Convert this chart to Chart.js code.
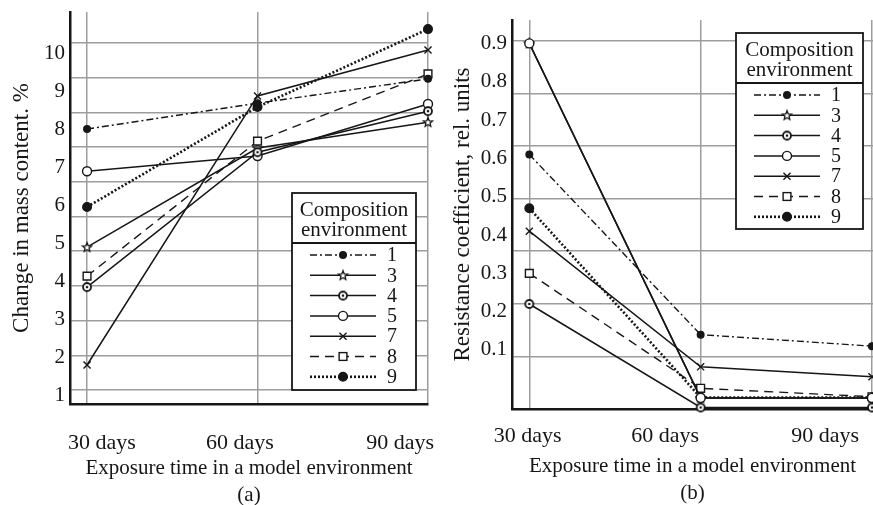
<!DOCTYPE html>
<html>
<head>
<meta charset="utf-8">
<title>Mass change and resistance coefficient vs exposure time</title>
<script src="https://cdn.jsdelivr.net/npm/chart.js@4.4.0/dist/chart.umd.min.js"></script>
<style>
  html, body { margin: 0; padding: 0; background: #fff; overflow: hidden; }
  #wrap { position: relative; width: 873px; height: 505px; overflow: hidden; }
  canvas { position: absolute; top: 0; }
  #massChart { left: 0; }
  #resistChart { left: 437px; }
</style>
</head>
<body>
<div id="wrap">
  <canvas id="massChart" width="440" height="510"></canvas>
  <canvas id="resistChart" width="436" height="510"></canvas>
</div>
<script>
// Exposure times and composition numbers
const days = [30, 60, 90];
const dayLabels = ['30 days', '60 days', '90 days'];
const compositions = ['1', '3', '4', '5', '7', '8', '9'];

// (a) change in mass content, %
const mass1 = [8.0, 8.68, 9.32];
const mass3 = [4.89, 7.5, 8.18];
const mass4 = [3.84, 7.39, 8.47];
const mass5 = [6.89, 7.29, 8.66];
const mass7 = [1.79, 8.87, 10.08];
const mass8 = [4.13, 7.68, 9.45];
const mass9 = [5.95, 8.58, 10.63];

// (b) resistance coefficient, rel. units
const resist1 = [0.61, 0.14, 0.11];
const resist3 = [0.9, -0.025, -0.025];
const resist4 = [0.22, -0.05, -0.05];
const resist5 = [0.9, -0.025, -0.025];
const resist7 = [0.41, 0.056, 0.03];
const resist8 = [0.30, 0.0, -0.022];
const resist9 = [0.47, -0.024, -0.024];

// Tick labels
const massTicks = [1, 2, 3, 4, 5, 6, 7, 8, 9, 10];
const resistTicks = [0.1, 0.2, 0.3, 0.4, 0.5, 0.6, 0.7, 0.8, 0.9];

// Where the day captions sit along the time axis (they run on their own spacing)
const captionDaysA = [32.6, 56.9, 85.1];
const captionDaysB = [29.7, 53.8, 81.8];

const INK = '#161616';
const GRID = '#9d9d9d';
const SERIF = '"Liberation Serif", "Times New Roman", serif';

// Small open star for composition 3
function starMarker() {
    const c = document.createElement('canvas');
    c.width = c.height = 12;
    const g = c.getContext('2d');
    g.beginPath();
    for (let i = 0; i < 10; i++) {
        const r = i % 2 ? 2.1 : 4.8;
        const a = -Math.PI / 2 + i * Math.PI / 5;
        g.lineTo(6 + r * Math.cos(a), 6.3 + r * Math.sin(a));
    }
    g.closePath();
    g.fillStyle = '#fff';
    g.fill();
    g.lineWidth = 1.3;
    g.strokeStyle = INK;
    g.stroke();
    return c;
}

// Ring with a dot in the middle for composition 4
function ringMarker() {
    const c = document.createElement('canvas');
    c.width = c.height = 12;
    const g = c.getContext('2d');
    g.beginPath();
    g.arc(6, 6, 4, 0, Math.PI * 2);
    g.fillStyle = '#fff';
    g.fill();
    g.lineWidth = 1.8;
    g.strokeStyle = INK;
    g.stroke();
    g.beginPath();
    g.arc(6, 6, 1.3, 0, Math.PI * 2);
    g.fillStyle = INK;
    g.fill();
    return c;
}

const seriesStyle = {
    '1': { dash: [7, 3, 2, 3], width: 1.4, point: 'circle', radius: 3.3, fill: INK },
    '3': { dash: [], width: 1.5, point: starMarker(), radius: 5, fill: '#fff' },
    '4': { dash: [], width: 1.5, point: ringMarker(), radius: 5, fill: '#fff' },
    '5': { dash: [], width: 1.5, point: 'circle', radius: 4.5, fill: '#fff' },
    '7': { dash: [], width: 1.5, point: 'crossRot', radius: 5, fill: INK },
    '8': { dash: [9, 6], width: 1.4, point: 'rect', radius: 5.5, fill: '#fff' },
    '9': { dash: [2, 2], width: 2.6, point: 'circle', radius: 4.3, fill: INK }
};

function buildDatasets(seriesValues) {
    return compositions.map((name, i) => {
        const s = seriesStyle[name];
        return {
            label: name,
            data: days.map((d, j) => ({ x: d, y: seriesValues[i][j] })),
            xAxisID: 'x',
            yAxisID: 'y',
            order: name === '3' ? 1 : 0,   // star sits underneath when points coincide
            borderColor: INK,
            borderWidth: s.width,
            borderDash: s.dash,
            pointStyle: s.point,
            pointRadius: s.radius,
            pointBackgroundColor: s.fill,
            pointBorderColor: INK,
            pointBorderWidth: 1.4,
            tension: 0,
            clip: false
        };
    });
}

// Marker sample for the legend box
function drawMarker(ctx, s, x, y) {
    ctx.save();
    ctx.setLineDash([]);
    ctx.lineWidth = 1.4;
    ctx.strokeStyle = INK;
    ctx.fillStyle = s.fill;
    if (typeof s.point !== 'string') {
        ctx.drawImage(s.point, x - s.point.width / 2, y - s.point.height / 2);
    } else if (s.point === 'circle') {
        ctx.beginPath();
        ctx.arc(x, y, s.radius, 0, Math.PI * 2);
        ctx.fill();
        ctx.stroke();
    } else if (s.point === 'rect') {
        const h = s.radius * Math.SQRT1_2;
        ctx.fillRect(x - h, y - h, 2 * h, 2 * h);
        ctx.strokeRect(x - h, y - h, 2 * h, 2 * h);
    } else if (s.point === 'crossRot') {
        const h = s.radius * Math.SQRT1_2;
        ctx.beginPath();
        ctx.moveTo(x - h, y - h); ctx.lineTo(x + h, y + h);
        ctx.moveTo(x - h, y + h); ctx.lineTo(x + h, y - h);
        ctx.stroke();
    }
    ctx.restore();
}

// Boxed legend with a two-line heading
const compositionLegend = {
    id: 'compositionLegend',
    afterDatasetsDraw(chart, args, opts) {
        const { ctx, chartArea } = chart;
        const x0 = chartArea.right - opts.right - opts.width;
        const y0 = opts.top != null ? chartArea.top + opts.top
                                    : chartArea.bottom - opts.bottom - opts.height;
        ctx.save();
        ctx.fillStyle = '#fff';
        ctx.fillRect(x0, y0, opts.width, opts.height);
        ctx.lineWidth = 1.8;
        ctx.strokeStyle = INK;
        ctx.strokeRect(x0, y0, opts.width, opts.height);
        ctx.beginPath();
        ctx.moveTo(x0, y0 + 50);
        ctx.lineTo(x0 + opts.width, y0 + 50);
        ctx.stroke();

        ctx.fillStyle = INK;
        ctx.textAlign = 'center';
        ctx.textBaseline = 'middle';
        ctx.font = '21px ' + SERIF;
        ctx.fillText('Composition', x0 + opts.width / 2, y0 + 17);
        ctx.fillText('environment', x0 + opts.width / 2, y0 + 37);

        ctx.font = '20px ' + SERIF;
        compositions.forEach((name, i) => {
            const s = seriesStyle[name];
            const y = y0 + 62 + i * 20.3;
            ctx.save();
            ctx.lineWidth = s.width;
            ctx.setLineDash(s.dash);
            ctx.beginPath();
            ctx.moveTo(x0 + 18, y);
            ctx.lineTo(x0 + 84, y);
            ctx.stroke();
            ctx.restore();
            drawMarker(ctx, s, x0 + 51, y);
            ctx.fillText(name, x0 + 100, y + 1);
        });
        ctx.restore();
    }
};

function makeChart(canvasId, cfg) {
    const tickFont = { family: SERIF, size: 21, lineHeight: 1 };
    return new Chart(document.getElementById(canvasId), {
        type: 'line',
        data: { datasets: buildDatasets(cfg.series) },
        plugins: [compositionLegend],
        options: {
            responsive: false,
            animation: false,
            devicePixelRatio: 1,
            events: [],
            layout: { padding: cfg.padding, autoPadding: false },
            plugins: {
                legend: { display: false },
                tooltip: { enabled: false },
                compositionLegend: cfg.legend
            },
            scales: {
                // time axis carrying the points and vertical grid;
                // its height is the gap above the day captions
                x: {
                    type: 'linear', position: 'bottom', weight: 0,
                    min: cfg.xMin, max: cfg.xMax,
                    ticks: { display: false, stepSize: 30, includeBounds: false },
                    grid: { color: GRID, lineWidth: 1.5, drawTicks: false },
                    border: { display: true, color: INK, width: 2.5 },
                    afterFit: s => { s.height = cfg.captionGap; }
                },
                // day captions and axis title
                xl: {
                    type: 'linear', position: 'bottom', weight: 1,
                    min: cfg.xMin, max: cfg.xMax,
                    afterBuildTicks: s => { s.ticks = cfg.captions.map(v => ({ value: v })); },
                    ticks: {
                        autoSkip: false, maxRotation: 0, padding: 0,
                        color: INK, font: { family: SERIF, size: 22 },
                        callback: (v, i) => dayLabels[i]
                    },
                    grid: { display: false, drawTicks: false },
                    border: { display: false },
                    title: {
                        display: true, text: ['Exposure time in a model environment', cfg.tag],
                        color: INK, font: { family: SERIF, size: 21, lineHeight: '27px' },
                        padding: { top: 0, bottom: cfg.titlePad }
                    },
                    afterFit: s => { s.height = cfg.bottomHeight - cfg.captionGap; }
                },
                // value scale with labels
                y: {
                    type: 'linear', position: 'left', weight: 1,
                    min: cfg.yMin, max: cfg.yMax,
                    afterBuildTicks: s => { s.ticks = cfg.yTicks.map(v => ({ value: v })); },
                    ticks: { padding: 0, color: INK, font: tickFont, callback: cfg.yFormat },
                    grid: { display: false, drawTicks: false },
                    border: { display: false },
                    title: {
                        display: true, text: cfg.yTitle, color: INK,
                        font: { family: SERIF, size: 23 },
                        padding: { top: cfg.yTitlePad, bottom: 0 }
                    },
                    afterFit: s => { s.width = cfg.leftWidth - 5; }
                },
                // horizontal grid, spaced independently of the labels;
                // its width is the gap between labels and the axis line
                yg: {
                    type: 'linear', position: 'left', weight: 0,
                    min: cfg.gridMin, max: cfg.gridMax,
                    ticks: { display: false, stepSize: 1, includeBounds: false },
                    grid: { color: GRID, lineWidth: 1.5, drawTicks: false },
                    border: { display: true, color: INK, width: 2.5 },
                    afterFit: s => { s.width = 5; }
                }
            }
        }
    });
}

makeChart('massChart', {
    series: [mass1, mass3, mass4, mass5, mass7, mass8, mass9],
    padding: { left: 0, top: 12, right: 12, bottom: 0 },
    legend: { right: 12, bottom: 14, width: 124, height: 197 },
    xMin: 27.0, xMax: 90,
    captions: captionDaysA, captionGap: 26, tag: '(a)', titlePad: 1.5, bottomHeight: 106,
    yMin: 0.763, yMax: 11.08, yTicks: massTicks, yFormat: v => String(v),
    yTitle: 'Change in mass content. %', yTitlePad: 8, leftWidth: 70,
    gridMin: -0.403, gridMax: 10.894
});

makeChart('resistChart', {
    series: [resist1, resist3, resist4, resist5, resist7, resist8, resist9],
    padding: { left: 0, top: 20, right: 0, bottom: 0 },
    legend: { right: 10, top: 13, width: 127, height: 196 },
    xMin: 26.97, xMax: 90.18,
    captions: captionDaysB, captionGap: 14.5, tag: '(b)', titlePad: 2.8, bottomHeight: 101,
    yMin: -0.054, yMax: 0.961, yTicks: resistTicks, yFormat: v => v.toFixed(1),
    yTitle: 'Resistance coefficient, rel. units', yTitlePad: 12, leftWidth: 75,
    gridMin: 0, gridMax: 7.395
});
</script>
</body>
</html>
